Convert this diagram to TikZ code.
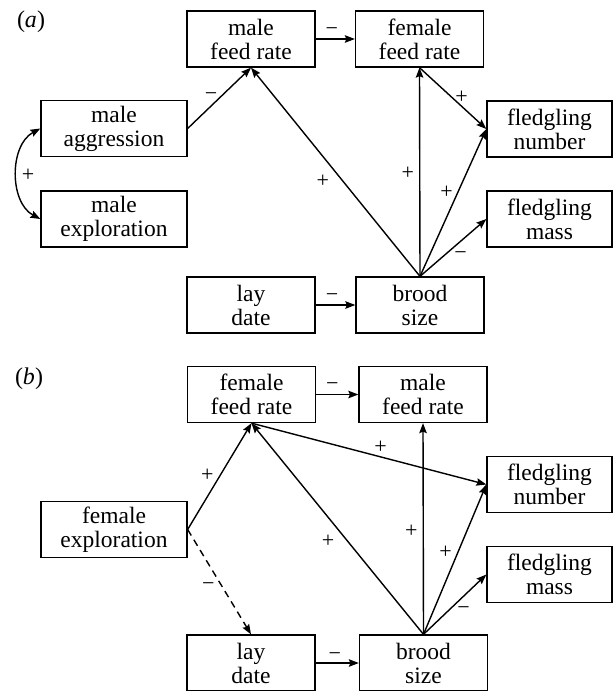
\documentclass[tikz,border=0pt]{standalone}
\usepackage{fontspec}
\setmainfont{Liberation Serif}
\usetikzlibrary{arrows.meta}
\begin{document}
\begin{tikzpicture}[x=1pt,y=-1pt,
  box/.style={draw, line width=1.3pt, inner sep=0pt, align=center,
    minimum height=56pt, font=\fontsize{23.5}{24}\selectfont},
  midbox/.style={box, minimum width=128pt},
  rbox/.style={box, minimum width=125pt},
  lbox/.style={box, minimum width=146pt},
  tip/.tip={Stealth[length=10pt,width=7.5pt,inset=1.5pt]},
  arr/.style={line width=1.4pt, -tip},
  lab/.style={inner sep=0pt, font=\fontsize{22}{22}\selectfont},
  panel/.style={inner sep=0pt, font=\fontsize{24}{24}\selectfont}]
\useasboundingbox (0,0) rectangle (614,691);
% ---------- panel (a) ----------
\node[panel] (pa) at (31,22) {(\textit{a})};
\node[midbox] (amfr) at (251,39) {male\\feed rate};
\node[midbox] (affr) at (419.5,39) {female\\feed rate};
\node[rbox] (afn) at (549.5,129) {fledgling\\number};
\node[rbox] (afm) at (549.5,219) {fledgling\\mass};
\node[lbox] (ama) at (114,128.5) {male\\aggression};
\node[lbox] (ame) at (114,219) {male\\exploration};
\node[midbox] (ald) at (251,305) {lay\\date};
\node[midbox] (abs) at (420,305) {brood\\size};
\draw[arr] (ama.east) -- node[lab, pos=.5, shift={(-8.25,-1.75)}] {−} (amfr.south);
\draw[arr] (amfr.east) -- node[lab, pos=.5, shift={(-3.5,-7)}] {−} (affr.west);
\draw[arr] (affr.south) -- node[lab, pos=.5, shift={(8.75,-1)}] {+} (afn.west);
\draw[arr] (abs.north) -- node[lab, pos=.5, shift={(-12,1)}] {+} (affr.south);
\draw[arr] (abs.north) -- node[lab, pos=.5, shift={(-6.5,-10)}] {+} (afn.west);
\draw[arr] (abs.north) -- node[lab, pos=.5, shift={(-12.75,9)}] {+} (amfr.south);
\draw[arr] (abs.north) -- node[lab, pos=.5, shift={(7.5,8)}] {−} (afm.west);
\draw[arr] (ald.east) -- node[lab, pos=.5, shift={(-3.5,-7)}] {−} (abs.west);
\draw[line width=1.4pt, tip-tip]
  (ama.west) to[bend right=62] node[lab, pos=.5, shift={(11,1.5)}] {+} (ame.west);
% ---------- panel (b) ----------
\node[panel] (pb) at (29,379) {(\textit{b})};
\node[midbox] (bffr) at (251.5,394.5) {female\\feed rate};
\node[midbox] (bmfr) at (423,394.5) {male\\feed rate};
\node[rbox] (bfn) at (549.5,484.5) {fledgling\\number};
\node[rbox] (bfm) at (549.5,574.5) {fledgling\\mass};
\node[lbox] (bfe) at (114,529.5) {female\\exploration};
\node[midbox] (bld) at (251,663) {lay\\date};
\node[midbox] (bbs) at (423.5,663) {brood\\size};
\draw[arr] (bffr.east) -- node[lab, pos=.5, shift={(-5,-7.5)}] {−} (bmfr.west);
\draw[arr] (bbs.north) -- node[lab, pos=.5, shift={(-12,3)}] {+} (bmfr.south);
\draw[arr] (bbs.north) -- node[lab, pos=.5, shift={(-9.5,13)}] {+} (bffr.south);
\draw[arr] (bffr.south) -- node[lab, pos=.5, shift={(11.75,-6.75)}] {+} (bfn.west);
\draw[arr] (bbs.north) -- node[lab, pos=.5, shift={(-9.25,-6.75)}] {+} (bfn.west);
\draw[arr] (bbs.north) -- node[lab, pos=.5, shift={(8.75,6.25)}] {−} (bfm.west);
\draw[arr] (bfe.east) -- node[lab, pos=.5, shift={(-12.25,-1.25)}] {+} (bffr.south);
\draw[arr, dash pattern=on 7pt off 5pt] (bfe.east) -- node[lab, pos=.5, shift={(-11,4.75)}] {−} (bld.north);
\draw[arr] (bld.east) -- node[lab, pos=.5, shift={(-2.5,-6)}] {−} (bbs.west);
\end{tikzpicture}
\end{document}
